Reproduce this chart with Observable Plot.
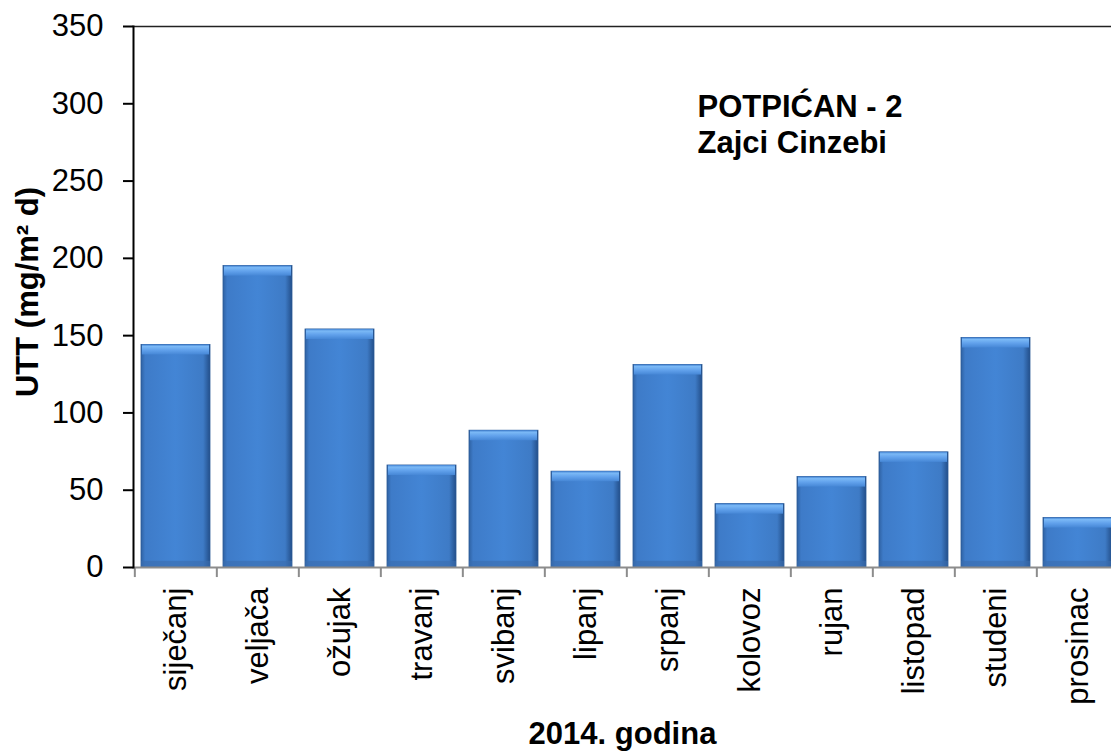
<!DOCTYPE html>
<html>
<head>
<meta charset="utf-8">
<script src="https://cdn.jsdelivr.net/npm/d3@7"></script>
<script src="https://cdn.jsdelivr.net/npm/@observablehq/plot@0.6"></script>
<style>
  html, body { margin: 0; padding: 0; background: #fff; overflow: hidden; }
  svg { overflow: hidden; }
</style>
</head>
<body>
<div id="chart"></div>
<script>
const months = ["siječanj","veljača","ožujak","travanj","svibanj","lipanj","srpanj","kolovoz","rujan","listopad","studeni","prosinac"];
const values = [144, 195, 154, 66, 88.5, 62, 131, 41, 58.5, 74.5, 148.5, 32];
const yTicks = [0, 50, 100, 150, 200, 250, 300, 350];
const yLabel = "UTT (mg/m² d)";
const xLabel = "2014. godina";
const note = "POTPIĆAN - 2\nZajci Cinzebi";

const data = months.map((m, i) => ({month: m, value: values[i]}));

const W = 1111, H = 751;
const mLeft = 133, xRight = 1121, mTop = 26, mBottom = 184;
const step = (xRight - mLeft) / months.length;
const font = "Liberation Sans, Arial, sans-serif";

const plot = Plot.plot({
  width: W,
  height: H,
  marginLeft: mLeft,
  marginRight: 0,
  marginTop: mTop,
  marginBottom: mBottom,
  style: {fontFamily: font, fontSize: "31px", color: "#000", background: "#fff"},
  x: {domain: months, range: [mLeft, xRight], paddingInner: 0.157, paddingOuter: 0.0785, label: null},
  y: {domain: [0, 350], label: null},
  marks: [
    Plot.barY(data, {x: "month", y: "value", fill: "url(#barBody)", stroke: "#2b5a96", strokeWidth: 0.8}),
    Plot.rectY(data, {x: "month", y1: d => d.value, y2: d => Math.max(0, d.value - 6.5), fill: "url(#barTop)", insetLeft: 1, insetRight: 1}),
    Plot.rectY(data, {x: "month", y1: 0, y2: 4, fill: "#3a6cae", fillOpacity: 0.6}),
    Plot.ruleY([0], {stroke: "#8c8c8c", strokeWidth: 2}),
    Plot.ruleX(months, {x: d => d, dx: -step / 2, y1: 0, y2: -6.5, stroke: "#8c8c8c", strokeWidth: 2}),
    Plot.ruleY([350], {stroke: "#222", strokeWidth: 1.5}),
    Plot.frame({anchor: "left", stroke: "#000", strokeWidth: 2}),
    Plot.axisY({ticks: yTicks, tickSize: 10, tickPadding: 20, tickFormat: d => String(d), stroke: "#000", strokeWidth: 2, fontSize: 31, label: null}),
    Plot.axisX({tickSize: 0, tickPadding: 20, tickRotate: -90, fontSize: 31, label: null}),
    Plot.text([yLabel], {frameAnchor: "left", dx: -105, dy: -5, rotate: -90, text: d => d, fontWeight: "bold", fontSize: 31, lineAnchor: "middle", textAnchor: "middle", fill: "#000"}),
    Plot.text([xLabel], {frameAnchor: "bottom", dy: 176, text: d => d, fontWeight: "bold", fontSize: 31, lineAnchor: "bottom", fill: "#000"}),
    Plot.text([note], {frameAnchor: "top-left", dx: 564, dy: 65, text: d => d, fontWeight: "bold", fontSize: 31, lineAnchor: "top", textAnchor: "start", lineHeight: 1.16, fill: "#000"})
  ]
});

const defs = d3.select(plot).insert("defs", ":first-child");
const gBody = defs.append("linearGradient").attr("id", "barBody").attr("x1", 0).attr("x2", 1).attr("y1", 0).attr("y2", 0);
[[0, "#2f62a3"], [0.06, "#3e7bc8"], [0.5, "#4385d5"], [0.9, "#3e7bc6"], [1, "#234f8a"]]
  .forEach(([o, c]) => gBody.append("stop").attr("offset", o).attr("stop-color", c));
const gTop = defs.append("linearGradient").attr("id", "barTop").attr("x1", 0).attr("x2", 0).attr("y1", 0).attr("y2", 1);
[[0, "#3f7fd0"], [0.2, "#7bb9f6"], [0.55, "#62a2ec"], [1, "#4687d6"]]
  .forEach(([o, c]) => gTop.append("stop").attr("offset", o).attr("stop-color", c));

document.getElementById("chart").appendChild(plot);
</script>
</body>
</html>
